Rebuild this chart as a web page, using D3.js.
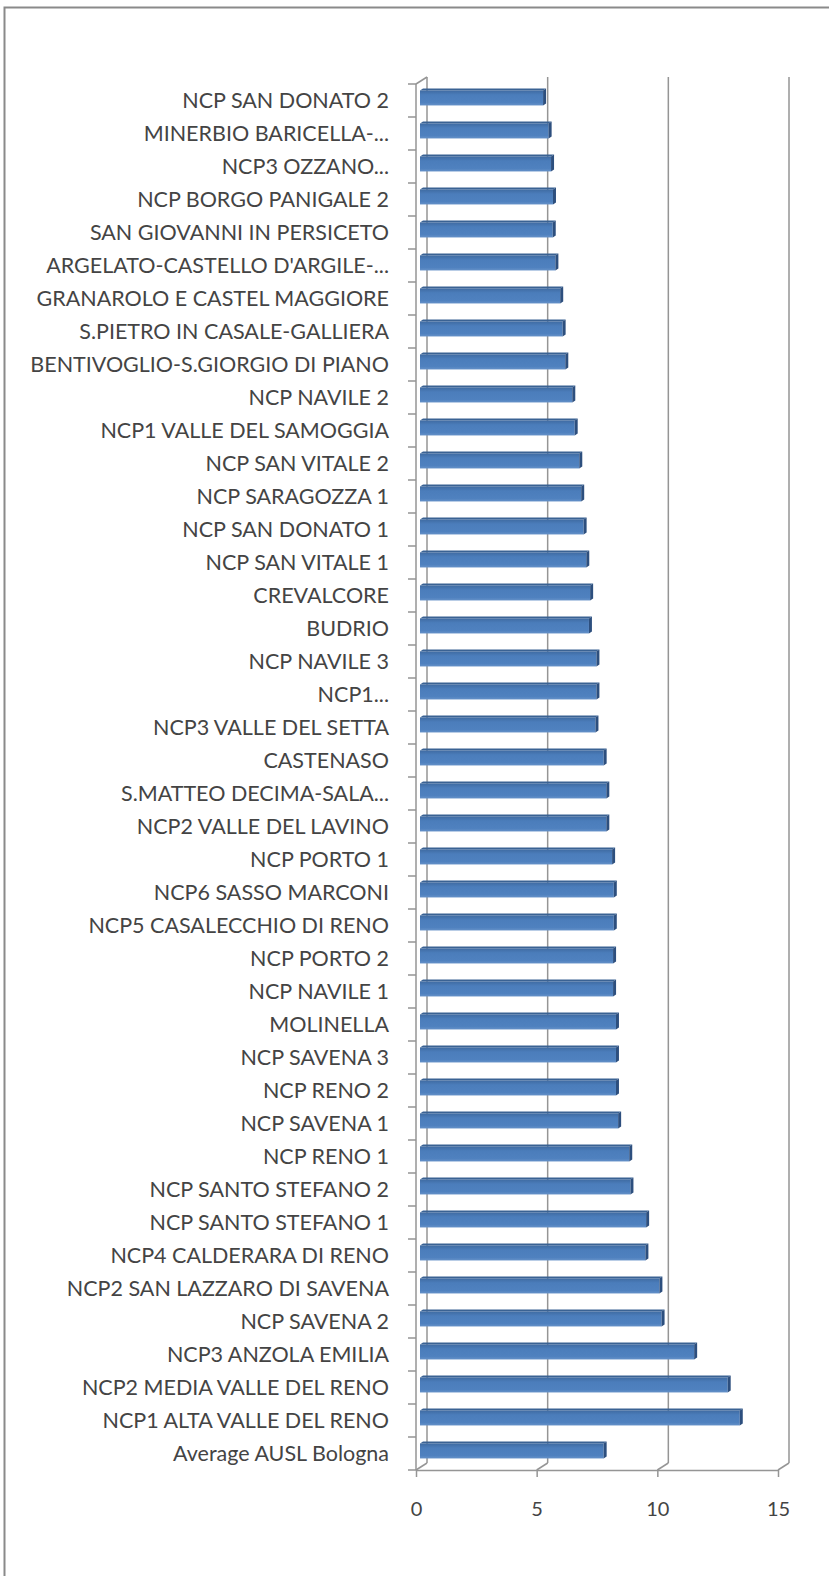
<!DOCTYPE html>
<html>
<head>
<meta charset="utf-8">
<script src="https://cdn.jsdelivr.net/npm/d3@7"></script>
<style>
  body { margin: 0; background: #fff; }
  svg { display: block; }
  .lbl { font-family: Lato, "Open Sans", sans-serif; fill: #444; }
</style>
</head>
<body>
<div id="chart"></div>
<script>
// categories, top to bottom as shown
const categories = [
  "NCP SAN DONATO 2", "MINERBIO BARICELLA-...", "NCP3 OZZANO...", "NCP BORGO PANIGALE 2",
  "SAN GIOVANNI IN PERSICETO", "ARGELATO-CASTELLO D'ARGILE-...", "GRANAROLO E CASTEL MAGGIORE",
  "S.PIETRO IN CASALE-GALLIERA", "BENTIVOGLIO-S.GIORGIO DI PIANO", "NCP NAVILE 2",
  "NCP1 VALLE DEL SAMOGGIA", "NCP SAN VITALE 2", "NCP SARAGOZZA 1", "NCP SAN DONATO 1",
  "NCP SAN VITALE 1", "CREVALCORE", "BUDRIO", "NCP NAVILE 3", "NCP1...", "NCP3 VALLE DEL SETTA",
  "CASTENASO", "S.MATTEO DECIMA-SALA...", "NCP2 VALLE DEL LAVINO", "NCP PORTO 1",
  "NCP6 SASSO MARCONI", "NCP5 CASALECCHIO DI RENO", "NCP PORTO 2", "NCP NAVILE 1", "MOLINELLA",
  "NCP SAVENA 3", "NCP RENO 2", "NCP SAVENA 1", "NCP RENO 1", "NCP SANTO STEFANO 2",
  "NCP SANTO STEFANO 1", "NCP4 CALDERARA DI RENO", "NCP2 SAN LAZZARO DI SAVENA", "NCP SAVENA 2",
  "NCP3 ANZOLA EMILIA", "NCP2 MEDIA VALLE DEL RENO", "NCP1 ALTA VALLE DEL RENO", "Average AUSL Bologna"
];
const values = [
  5.10, 5.33, 5.43, 5.51, 5.50, 5.61, 5.81, 5.91, 6.02, 6.31,
  6.41, 6.60, 6.68, 6.78, 6.89, 7.05, 7.00, 7.31, 7.31, 7.27,
  7.61, 7.72, 7.72, 7.96, 8.03, 8.03, 8.00, 8.00, 8.12, 8.12,
  8.12, 8.21, 8.67, 8.72, 9.37, 9.34, 9.92, 10.01, 11.36, 12.75,
  13.25, 7.61
];
const tickValues = [0, 5, 10, 15];

const W = 829, H = 1576;
const depthX = 11, depthY = -7;   // back wall offset
const barF = 4 / 11;              // bar position inside the depth
const barD = 3;                   // bar depth shown

const svg = d3.select("#chart").append("svg").attr("width", W).attr("height", H);

// outer frame (right and bottom edges fall outside)
svg.append("rect").attr("x", 4.5).attr("y", 7.5).attr("width", 900).attr("height", 1700)
  .attr("fill", "#fff").attr("stroke", "#8a8a8a").attr("stroke-width", 2);

const x = d3.scaleLinear().domain([0, 15]).range([416, 778]);
const y = d3.scaleBand().domain(categories).range([84, 1470]);
const yBottom = 1470, yTop = 84;

// defs: bar gradient
const defs = svg.append("defs");
const g1 = defs.append("linearGradient").attr("id", "barGrad").attr("x1", 0).attr("y1", 0).attr("x2", 0).attr("y2", 1);
g1.append("stop").attr("offset", "0%").attr("stop-color", "#3f6ba2");
g1.append("stop").attr("offset", "30%").attr("stop-color", "#4b7dbb");
g1.append("stop").attr("offset", "80%").attr("stop-color", "#4f81bf");
g1.append("stop").attr("offset", "100%").attr("stop-color", "#6591c8");

const grid = svg.append("g").attr("stroke", "#959595").attr("fill", "none").attr("stroke-width", 1.5);

// back wall gridlines
grid.selectAll("line.gl").data(tickValues).join("line")
  .attr("class", "gl")
  .attr("x1", d => x(d) + depthX).attr("x2", d => x(d) + depthX)
  .attr("y1", yTop + depthY).attr("y2", yBottom + depthY);

// floor diagonals
grid.selectAll("path.fd").data(tickValues).join("path")
  .attr("class", "fd")
  .attr("d", d => `M${x(d)},${yBottom} L${x(d) + depthX},${yBottom + depthY}`);

// top-left diagonal of side wall
grid.append("path").attr("d", `M${x(0)},${yTop} L${x(0) + depthX},${yTop + depthY}`);

// front left axis line + tick marks at band boundaries
grid.append("line").attr("x1", x(0)).attr("x2", x(0)).attr("y1", yTop).attr("y2", yBottom);
const bounds = categories.map(c => y(c)).concat([yBottom]);
grid.selectAll("line.lt").data(bounds).join("line")
  .attr("class", "lt")
  .attr("x1", x(0) - 8).attr("x2", x(0))
  .attr("y1", d => d).attr("y2", d => d);

// bottom axis
const xAxis = svg.append("g").attr("transform", `translate(0,${yBottom})`)
  .call(d3.axisBottom(x).tickValues(tickValues).tickSize(7).tickPadding(25).tickSizeOuter(0));
xAxis.select(".domain").attr("stroke", "#959595").attr("stroke-width", 1.5);
xAxis.selectAll(".tick line").attr("stroke", "#959595").attr("stroke-width", 1.5);
xAxis.selectAll(".tick text").attr("class", "lbl").style("font-size", "20px");

// bars
const bx0 = x(0) + depthX * barF;
const bShift = depthY * barF;
const bh = 15;
const bars = svg.append("g");
const rows = categories.map((c, i) => ({ c, v: values[i] }));

rows.forEach(d => {
  const cy = y(d.c) + y.bandwidth() / 2 + bShift;
  const top = cy - bh / 2, bot = cy + bh / 2;
  const xe = bx0 + (x(d.v) - x(0));
  // top face
  bars.append("path")
    .attr("d", `M${bx0},${top} L${bx0 + barD},${top - 2} L${xe + barD},${top - 2} L${xe},${top} Z`)
    .attr("fill", "#3a6293");
  // front face
  bars.append("rect").attr("x", bx0).attr("y", top).attr("width", xe - bx0).attr("height", bh)
    .attr("fill", "url(#barGrad)");
  // end face
  bars.append("path")
    .attr("d", `M${xe},${top} L${xe + barD},${top - 2} L${xe + barD},${bot - 2} L${xe},${bot} Z`)
    .attr("fill", "#2d4f7e");
});

// category labels
svg.append("g").selectAll("text").data(categories).join("text")
  .attr("class", "lbl")
  .attr("x", 389)
  .attr("y", d => y(d) + y.bandwidth() / 2)
  .attr("dy", "0.35em")
  .attr("text-anchor", "end")
  .style("font-size", "21.5px")
  .text(d => d);
</script>
</body>
</html>
